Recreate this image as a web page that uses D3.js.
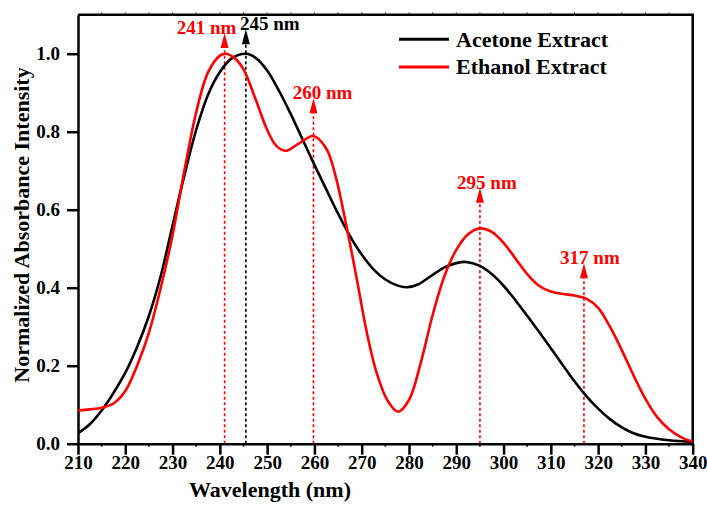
<!DOCTYPE html>
<html>
<head>
<meta charset="utf-8">
<script src="https://cdn.jsdelivr.net/npm/d3@7"></script>
<style>
  body { margin: 0; background: #fff; }
  text { font-family: "Liberation Serif", "Times New Roman", serif; font-weight: bold; }
</style>
</head>
<body>
<div id="chart"></div>
<script>
// Spectra (wavelength in nm, normalized absorbance)
const acetoneWl = [210, 212.5, 215, 217.5, 220, 222.5, 225, 227.5, 230, 232.5, 235, 237.5, 240, 242.5, 245.5,
  247.5, 250, 252.5, 255, 257.5, 260, 262.5, 265, 267.5, 270, 272.5, 275, 277.5, 279.5, 282, 285, 287.5,
  290, 292, 295, 297.5, 300, 302.5, 305, 307.5, 310, 312.5, 315, 317.5, 320, 322.5, 325, 327.5, 330, 335, 340];
const acetoneAbs = [0.027, 0.05, 0.085, 0.13, 0.182, 0.248, 0.328, 0.43, 0.56, 0.688, 0.805, 0.895, 0.953, 0.988, 1.0,
  0.99, 0.957, 0.905, 0.845, 0.78, 0.715, 0.652, 0.59, 0.533, 0.485, 0.447, 0.421, 0.406, 0.401, 0.409, 0.433, 0.452,
  0.463, 0.466, 0.456, 0.435, 0.405, 0.368, 0.328, 0.287, 0.245, 0.202, 0.16, 0.122, 0.09, 0.063, 0.042, 0.027, 0.018, 0.009, 0.005];

const ethanolWl = [210, 212.5, 215, 217.5, 220, 222.5, 225, 227.5, 230, 232.5, 235, 237.5, 240, 241.2, 243, 245,
  247.5, 250, 252, 254, 256.5, 259.8, 262.5, 264.5, 266.8, 269, 271, 273.2, 275.5, 277.7, 280, 282.5, 285,
  287.5, 290, 292.5, 295, 297.5, 300, 302.5, 305, 307.5, 310, 312.5, 315, 317.5, 320, 322.5, 325, 327.5,
  330, 332.5, 335, 337.5, 340];
const ethanolAbs = [0.085, 0.088, 0.092, 0.103, 0.135, 0.2, 0.285, 0.4, 0.535, 0.7, 0.85, 0.952, 0.995, 1.0, 0.99, 0.96,
  0.885, 0.805, 0.763, 0.751, 0.768, 0.789, 0.757, 0.685, 0.556, 0.42, 0.29, 0.18, 0.11, 0.082, 0.112, 0.208, 0.33,
  0.43, 0.497, 0.537, 0.552, 0.543, 0.515, 0.475, 0.435, 0.405, 0.39, 0.384, 0.38, 0.372, 0.348, 0.3, 0.24, 0.175,
  0.115, 0.068, 0.037, 0.017, 0.005];

const seriesNames = ["Acetone Extract", "Ethanol Extract"];

// Peak markers
const peakWl = [241, 245.5, 259.8, 295, 317];
const peakLabels = ["241 nm", "245 nm", "260 nm", "295 nm", "317 nm"];
const peakArrowTop = [1.053, 1.063, 0.886, 0.656, 0.463];
const peakSeries = [1, 0, 1, 1, 1];

const xTicks = d3.range(210, 341, 10);
const yTicks = [0, 0.2, 0.4, 0.6, 0.8, 1.0];

const W = 707, H = 506;
const colors = ["#000000", "#ff0000"];

const x = d3.scaleLinear().domain([210, 340]).range([78, 692.7]);
const y = d3.scaleLinear().domain([0, 1.1]).range([443.7, 14.7]);

const svg = d3.select("#chart").append("svg")
  .attr("width", W)
  .attr("height", H);

// top minor ticks + frame
svg.append("g")
  .selectAll("line")
  .data(d3.range(215, 340, 5))
  .join("line")
  .attr("x1", d => x(d)).attr("x2", d => x(d))
  .attr("y1", y(1.1)).attr("y2", y(1.1) - 2.5)
  .attr("stroke", "#555").attr("stroke-width", 1);

svg.append("path")
  .attr("d", `M${x(210)},${y(1.1)}H${x(340)}V${y(0)}`)
  .attr("fill", "none")
  .attr("stroke", "#000")
  .attr("stroke-width", 2.5);

// bottom minor ticks
svg.append("g")
  .selectAll("line")
  .data(d3.range(215, 340, 10))
  .join("line")
  .attr("x1", d => x(d)).attr("x2", d => x(d))
  .attr("y1", y(0)).attr("y2", y(0) + 3)
  .attr("stroke", "#000").attr("stroke-width", 1.5);

// axes
const xAxis = svg.append("g")
  .attr("transform", `translate(0,${y(0)})`)
  .call(d3.axisBottom(x).tickValues(xTicks).tickSize(11).tickPadding(1).tickSizeOuter(0).tickFormat(d3.format("d")));

const yAxis = svg.append("g")
  .attr("transform", `translate(${x(210)},0)`)
  .call(d3.axisLeft(y).tickValues(yTicks).tickSize(11).tickPadding(7).tickSizeOuter(0).tickFormat(d3.format(".1f")));

[xAxis, yAxis].forEach(g => {
  g.select(".domain").attr("stroke-width", 2.5);
  g.selectAll(".tick line").attr("stroke-width", 2.5);
  g.selectAll(".tick text")
    .attr("fill", "#000")
    .style("font-size", "19px")
    .style("font-family", "'Liberation Serif', 'Times New Roman', serif")
    .style("font-weight", "bold");
});

// peak markers (drawn under curves)
const marks = svg.append("g");
peakWl.forEach((wl, i) => {
  const c = colors[peakSeries[i]];
  const px = x(wl);
  const tip = y(peakArrowTop[i]);
  marks.append("line")
    .attr("x1", px).attr("x2", px)
    .attr("y1", y(0)).attr("y2", tip + 13)
    .attr("stroke", c)
    .attr("stroke-width", 1.6)
    .attr("stroke-dasharray", "3,2.5");
  marks.append("path")
    .attr("d", `M${px},${tip}L${px - 4},${tip + 15}L${px + 4},${tip + 15}Z`)
    .attr("fill", c);
});

// curves
const line = d3.line()
  .x(d => x(d[0]))
  .y(d => y(d[1]))
  .curve(d3.curveCatmullRom.alpha(0.5));

const acetone = d3.zip(acetoneWl, acetoneAbs);
const ethanol = d3.zip(ethanolWl, ethanolAbs);

svg.append("path")
  .datum(acetone)
  .attr("fill", "none")
  .attr("stroke", colors[0])
  .attr("stroke-width", 2.6)
  .attr("d", line);

svg.append("path")
  .datum(ethanol)
  .attr("fill", "none")
  .attr("stroke", colors[1])
  .attr("stroke-width", 2.6)
  .attr("d", line);

// peak labels
const labelDx = [-18, 24, 9, 7, 6];
peakWl.forEach((wl, i) => {
  svg.append("text")
    .attr("x", x(wl) + labelDx[i])
    .attr("y", y(peakArrowTop[i]) + 1)
    .attr("text-anchor", "middle")
    .attr("fill", colors[peakSeries[i]])
    .style("font-size", "19px")
    .text(peakLabels[i]);
});

// legend
const legend = svg.append("g");
seriesNames.forEach((name, i) => {
  const ly = 39.3 + i * 27.7;
  legend.append("line")
    .attr("x1", 399).attr("x2", 449)
    .attr("y1", ly).attr("y2", ly)
    .attr("stroke", colors[i])
    .attr("stroke-width", 3);
  legend.append("text")
    .attr("x", 456)
    .attr("y", ly + 7.3)
    .attr("fill", "#000")
    .style("font-size", "22px")
    .text(name);
});

// axis titles
svg.append("text")
  .attr("x", 270)
  .attr("y", 497)
  .attr("text-anchor", "middle")
  .style("font-size", "22px")
  .text("Wavelength (nm)");

svg.append("text")
  .attr("transform", "translate(29,225) rotate(-90)")
  .attr("text-anchor", "middle")
  .style("font-size", "22px")
  .text("Normalized Absorbance Intensity");
</script>
</body>
</html>
